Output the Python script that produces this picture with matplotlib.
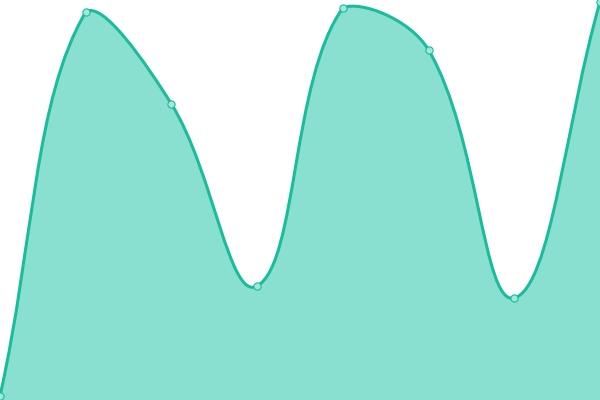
import numpy as np
import matplotlib
matplotlib.use("Agg")
import matplotlib.pyplot as plt
from matplotlib.path import Path
from matplotlib import patches

# data (axis hidden, values read as % of plot height)
labels = ["Jan", "Feb", "Mar", "Apr", "May", "Jun", "Jul", "Aug"]
values = [1, 97, 74, 28.5, 98, 87.5, 25.5, 99.5]

LINE = "#1abc9c"
FILL = "#89e0d0"
POINT_FILL = "#a2e8da"
TENSION = 0.4


def spline_controls(pts, tension, bbox):
    # chart.js style bezier control points, computed in pixel space
    n = len(pts)
    cprev = np.zeros_like(pts)
    cnext = np.zeros_like(pts)
    for i in range(n):
        prev = pts[i-1] if i > 0 else pts[i]
        cur = pts[i]
        nxt = pts[i+1] if i < n-1 else pts[i]
        d01 = np.hypot(*(cur-prev))
        d12 = np.hypot(*(nxt-cur))
        tot = d01+d12
        fa = tension*d01/tot if tot else 0
        fb = tension*d12/tot if tot else 0
        cprev[i] = cur-fa*(nxt-prev)
        cnext[i] = cur+fb*(nxt-prev)
    # cap to chart area
    for c in (cprev, cnext):
        c[:, 0] = np.clip(c[:, 0], bbox.x0, bbox.x1)
        c[:, 1] = np.clip(c[:, 1], bbox.y0, bbox.y1)
    return cprev, cnext


fig = plt.figure(figsize=(6, 4), dpi=100)
ax = fig.add_axes((0, 0, 1, 1))
ax.set_xlim(0, len(values)-1)
ax.set_ylim(0, 100)
ax.axis("off")

x = np.arange(len(values))
pix = ax.transData.transform(np.column_stack([x, values]))
cprev, cnext = spline_controls(pix, TENSION, ax.bbox)
inv = ax.transData.inverted()
pts = inv.transform(pix)
cprev = inv.transform(cprev)
cnext = inv.transform(cnext)

verts = [pts[0]]
codes = [Path.MOVETO]
for i in range(len(pts)-1):
    verts += [cnext[i], cprev[i+1], pts[i+1]]
    codes += [Path.CURVE4]*3

fill_verts = verts+[(pts[-1][0], 0), (pts[0][0], 0), pts[0]]
fill_codes = codes+[Path.LINETO, Path.LINETO, Path.CLOSEPOLY]
ax.add_patch(patches.PathPatch(Path(fill_verts, fill_codes), facecolor=FILL, edgecolor="none"))
ax.add_patch(patches.PathPatch(Path(verts, codes), facecolor="none", edgecolor=LINE, linewidth=2.2))

ax.plot(x, values, "o", ms=5.2, mfc=POINT_FILL, mec=LINE, mew=0.8)

fig.savefig("out.png", dpi=100)
